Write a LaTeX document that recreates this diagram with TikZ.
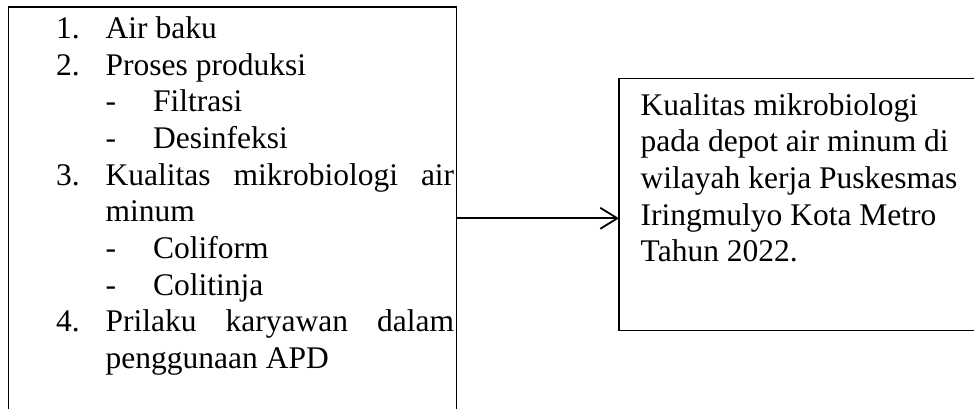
\documentclass[tikz,border=0pt]{standalone}
\usepackage{fontspec}
\setmainfont{Liberation Serif}
\usepackage{tikz}
\usetikzlibrary{arrows.meta}
\setlength{\parindent}{0pt}
\newcommand{\nomor}[1]{\makebox[49.5pt][l]{#1}}
\newcommand{\anak}[1]{\hspace*{49.5pt}\makebox[47.5pt][l]{-}#1}
\tikzset{kotak/.style = {draw, line width=1.3pt, rectangle, inner sep=0, outer sep=0}}
\tikzset{teks/.style = {inner sep=0, text width=400pt, align=flush left, font={\fontsize{31.5}{36.7}\selectfont}}}
\tikzset{panah/.style = {line width=1.8pt, -{Straight Barb[length=17pt,width=21pt]}}}

\begin{document}
\begin{tikzpicture}[x=1pt,y=-1pt]
        \useasboundingbox (0,0) rectangle (974,408);
        \clip (0,0) rectangle (974,408);
        \node [kotak, minimum width=448pt, minimum height=430pt, anchor=north west] (faktor) at (8.5,7) {};
        \node [kotak, minimum width=420pt, minimum height=252pt, anchor=north west] (hasil) at (619,78.5) {};
        \node [teks, anchor=base west] (daftar) at (56,38.3) {\nomor{1.}Air baku\\
            \nomor{2.}Proses produksi\\
            \anak{Filtrasi}\\
            \anak{Desinfeksi}\\
            \nomor{3.}\makebox[348.5pt][s]{Kualitas\hfill mikrobiologi\hfill air}\\
            \hspace*{49.5pt}minum\\
            \anak{Coliform}\\
            \anak{Colitinja}\\
            \nomor{4.}\makebox[348.5pt][s]{Prilaku\hfill karyawan\hfill dalam}\\
            \hspace*{49.5pt}penggunaan APD};
        \node [teks, text width=330pt, anchor=base west] (judul) at (640.5,115) {Kualitas mikrobiologi\\pada depot air minum di\\wilayah kerja Puskesmas\\Iringmulyo Kota Metro\\Tahun 2022.};
        \coordinate (garis) at (0,218.3);
        \draw [panah] (faktor.east |- garis) -- (hasil.west |- garis);
    \end{tikzpicture}
\end{document}
